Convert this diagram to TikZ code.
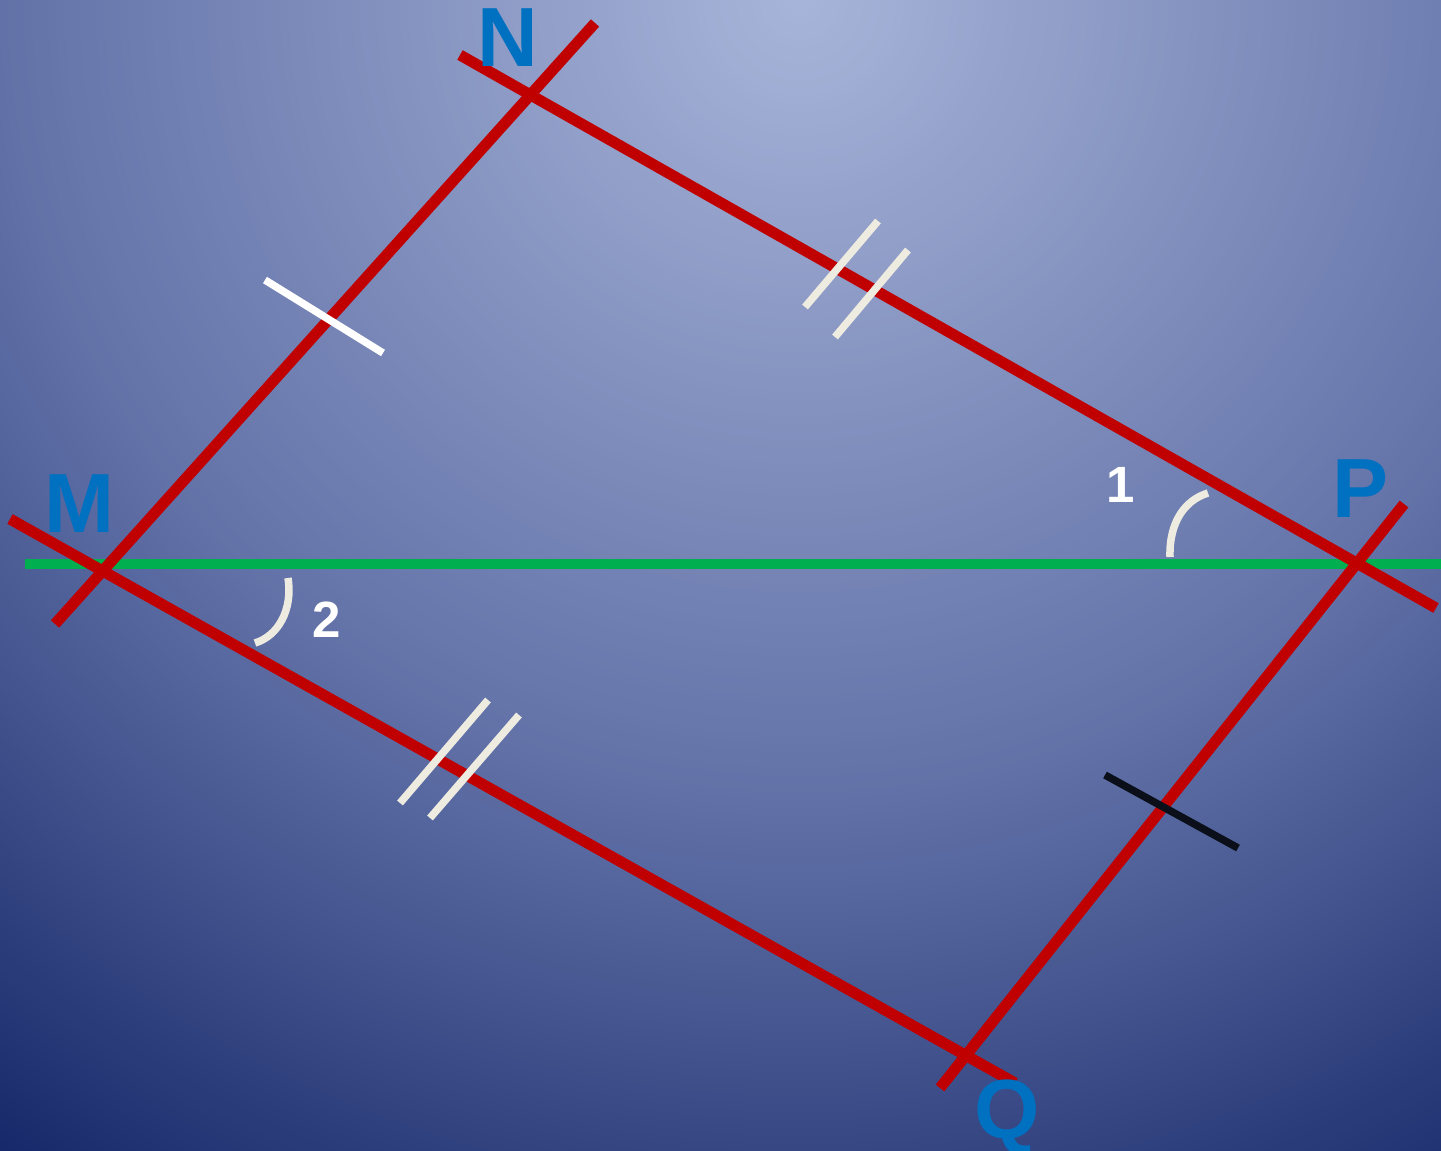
\documentclass[tikz,border=0pt]{standalone}
\usepackage{fontspec}
\setmainfont{Liberation Sans}
\definecolor{bgA}{HTML}{A8B5DA}
\definecolor{bgB}{HTML}{8593C0}
\definecolor{bgC}{HTML}{6272A8}
\definecolor{bgD}{HTML}{17296A}
\definecolor{redline}{HTML}{C00000}
\definecolor{greenline}{HTML}{00B050}
\definecolor{lbl}{HTML}{0070C0}
\definecolor{cream}{HTML}{EEEBE0}
\definecolor{tickblack}{HTML}{0A0F1A}
\tikzset{
  side/.style={draw=redline, line width=11pt},
  axis/.style={draw=greenline, line width=10.5pt},
  tickw/.style={draw=white, line width=7.5pt},
  tickc/.style={draw=cream, line width=7.5pt},
  tickk/.style={draw=tickblack, line width=7.5pt},
  anglearc/.style={draw=cream, line width=7.5pt},
  vlabel/.style={text=lbl, font=\fontsize{84}{84}\selectfont\bfseries, inner sep=0pt},
  nlabel/.style={text=white, font=\fontsize{51}{51}\selectfont\bfseries, inner sep=0pt}
}
\begin{document}
\begin{tikzpicture}[x=1pt,y=-1pt]
\useasboundingbox (0,0) rectangle (1441,1151);
\begin{scope}
\clip (0,0) rectangle (1441,1151);
\fill[bgD] (0,0) rectangle (1441,1151);
\foreach \r in {1456,1448,...,8}{
  \ifdim\r pt>1400pt
    \def\cc{bgD}%
  \else\ifdim\r pt>800pt
    \pgfmathsetmacro\f{(1400-\r)/6}\edef\cc{bgC!\f!bgD}%
  \else\ifdim\r pt>400pt
    \pgfmathsetmacro\f{(800-\r)/4}\edef\cc{bgB!\f!bgC}%
  \else
    \pgfmathsetmacro\f{(400-\r)/4}\edef\cc{bgA!\f!bgB}%
  \fi\fi\fi
  \fill[fill=\cc] (800,0) circle (\r);
}
\end{scope}
% points
\coordinate (M) at (102,567);
\coordinate (N) at (530,91);
\coordinate (P) at (1356,564);
\coordinate (Q) at (962,1058);
% line ends
\coordinate (g1) at (25,564);
\coordinate (g2) at (1441,564);
\coordinate (mn1) at (55,624);
\coordinate (mn2) at (595,23);
\coordinate (np1) at (460,55);
\coordinate (np2) at (1436,608);
\coordinate (mq1) at (10,519);
\coordinate (mq2) at (1015,1083);
\coordinate (pq1) at (1404,504);
\coordinate (pq2) at (940,1088);
\draw[axis] (g1) -- (g2);
\draw[side] (mn1) -- (mn2);
\draw[side] (np1) -- (np2);
\draw[side] (mq1) -- (mq2);
\draw[side] (pq1) -- (pq2);
% ticks
\coordinate (t1a) at (265,280); \coordinate (t1b) at (383,353);
\draw[tickw] (t1a) -- (t1b);
\coordinate (t2a) at (1105,775); \coordinate (t2b) at (1238,848);
\draw[tickk] (t2a) -- (t2b);
\coordinate (t3a) at (805,307); \coordinate (t3b) at (878,221);
\coordinate (t4a) at (835,337); \coordinate (t4b) at (908,250);
\draw[tickc] (t3a) -- (t3b);
\draw[tickc] (t4a) -- (t4b);
\coordinate (t5a) at (400,803); \coordinate (t5b) at (488,700);
\coordinate (t6a) at (430,818); \coordinate (t6b) at (519,715);
\draw[tickc] (t5a) -- (t5b);
\draw[tickc] (t6a) -- (t6b);
% angle arcs
\coordinate (a1s) at (1170,557);
\coordinate (a1e) at (1208,493);
\draw[anglearc] (a1s) .. controls (1169,522) and (1185,500) .. (a1e);
\coordinate (a2s) at (288,578);
\coordinate (a2e) at (255,643);
\draw[anglearc] (a2s) .. controls (293,610) and (278,636) .. (a2e);
% labels
\node[vlabel] (lN) at (508,38) {N};
\node[vlabel] (lM) at (79,504) {M};
\node[vlabel] (lP) at (1361,489) {P};
\node[vlabel] (lQ) at (1007,1117) {Q};
\node[nlabel] (l1) at (1121,485) {1};
\node[nlabel] (l2) at (327,620) {2};
\end{tikzpicture}
\end{document}
